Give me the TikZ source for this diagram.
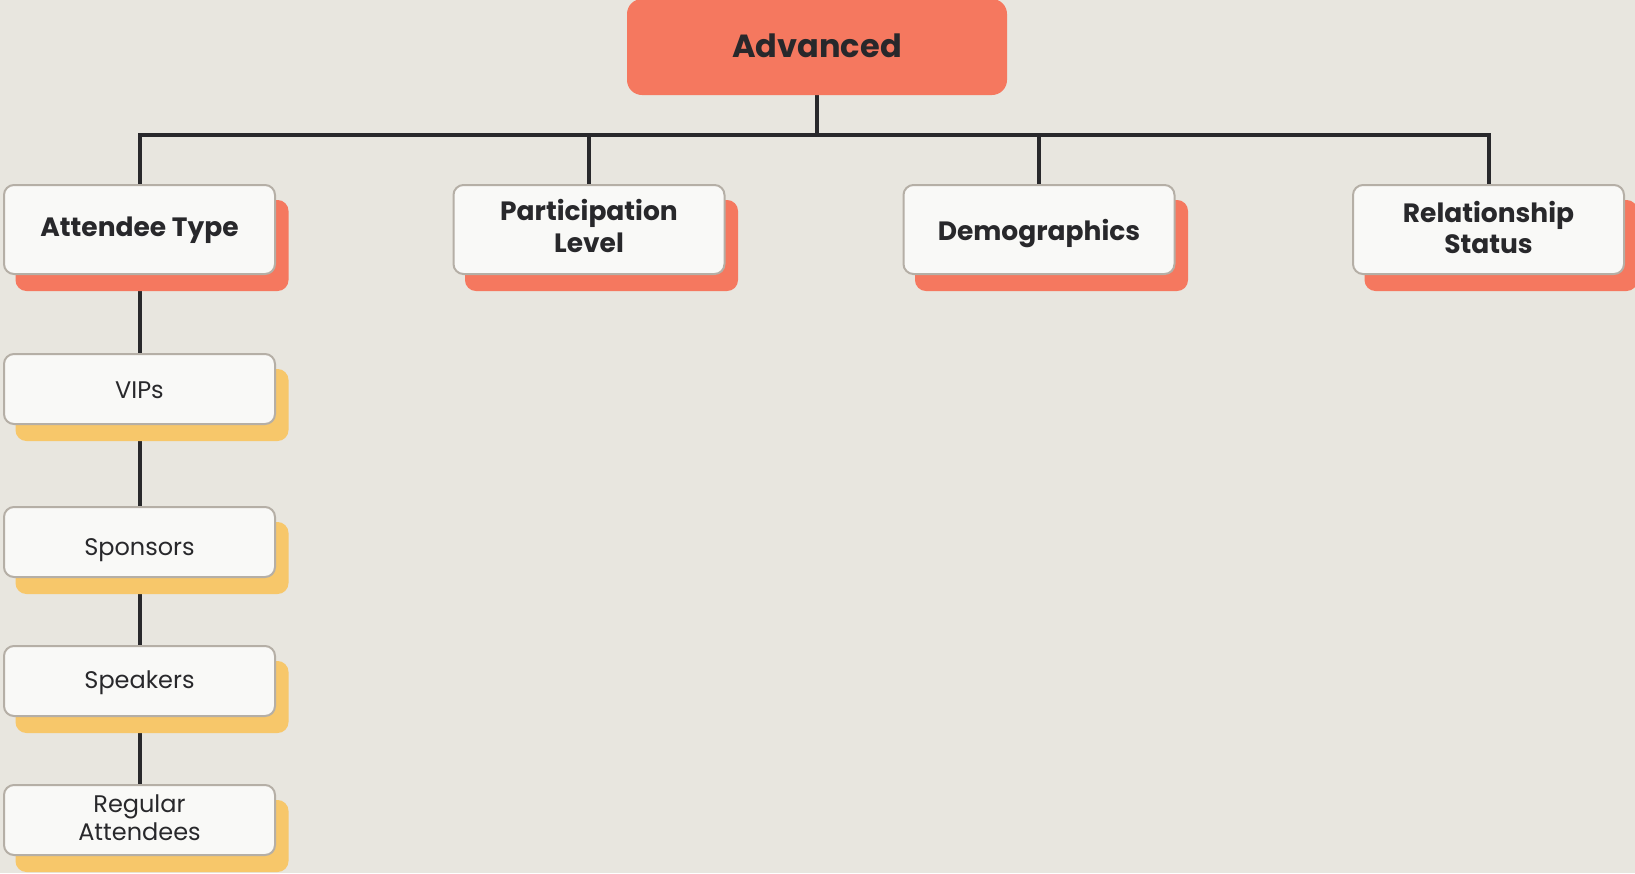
\documentclass[tikz,border=0pt]{standalone}
\usepackage{fontspec}
\setmainfont{Poppins}
\usetikzlibrary{shadows,backgrounds}
\definecolor{bg}{HTML}{E8E6DF}
\definecolor{coral}{HTML}{F5785F}
\definecolor{gold}{HTML}{F7C76A}
\definecolor{card}{HTML}{F9F9F7}
\definecolor{rim}{HTML}{B5AFA6}
\definecolor{ink}{HTML}{28282B}
% text whose baseline sits #1 below the node centre (single line)
\newcommand\lowered[2]{\raisebox{-#1}[0pt][0pt]{#2}}
% two stacked lines, first baseline #1 above the node centre
\newcommand\twolines[3]{\raisebox{#1}[0pt][0pt]{\begin{tabular}[t]{@{}c@{}}#2\\#3\end{tabular}}}
\tikzset{
  card/.style={draw=rim, line width=2pt, fill=card, rounded corners=10pt,
    minimum width=271pt, align=center, text=ink, inner sep=0pt},
  catbox/.style={card, minimum height=89pt,
    font=\bfseries\fontsize{26.5}{31.7}\selectfont,
    general shadow={fill=coral, draw=coral, shadow xshift=12.5pt, shadow yshift=-16pt}},
  leafbox/.style={card, minimum height=70pt,
    font=\fontsize{24}{27.7}\selectfont,
    general shadow={fill=gold, draw=gold, shadow xshift=12.5pt, shadow yshift=-16pt}},
  rootbox/.style={fill=coral, rounded corners=15pt, minimum width=380pt,
    minimum height=96pt, text=ink, inner sep=0pt,
    font=\bfseries\fontsize{32}{38}\selectfont},
  link/.style={draw=ink, line width=4pt},
}
\begin{document}
\begin{tikzpicture}[x=1pt,y=-1pt]
\useasboundingbox (0,0) rectangle (1635,873);

\node[rootbox] (root) at (817,47) {\lowered{10pt}{Advanced}};

\node[catbox] (c1) at (139.5,229.5) {\lowered{7.2pt}{Attendee Type}};
\node[catbox] (c2) at (589,229.5) {\twolines{9.2pt}{Participation}{Level}};
\node[catbox] (c3) at (1039,229.5) {\lowered{10.8pt}{Demographics}};
\node[catbox] (c4) at (1488.5,229.5) {\twolines{7.3pt}{Relationship}{Status}};

\node[leafbox] (v1) at (139.5,389) {\lowered{9.3pt}{VIPs}};
\node[leafbox] (v2) at (139.5,542) {\lowered{13pt}{Sponsors}};
\node[leafbox] (v3) at (139.5,681) {\lowered{7.3pt}{Speakers}};
\node[leafbox] (v4) at (139.5,820) {\twolines{7.7pt}{Regular}{Attendees}};

\coordinate (bus) at (817,135);

\begin{pgfonlayer}{background}
  \fill[bg] (0,0) rectangle (1635,873);
  \draw[link] (root) -- (bus);
  \draw[link] (c1) -- (c1 |- bus) -- (c4 |- bus) -- (c4);
  \draw[link] (c2) -- (c2 |- bus);
  \draw[link] (c3) -- (c3 |- bus);
  \draw[link] (c1) -- (v1);
  \draw[link] (v1) -- (v2);
  \draw[link] (v2) -- (v3);
  \draw[link] (v3) -- (v4);
\end{pgfonlayer}
\end{tikzpicture}
\end{document}
